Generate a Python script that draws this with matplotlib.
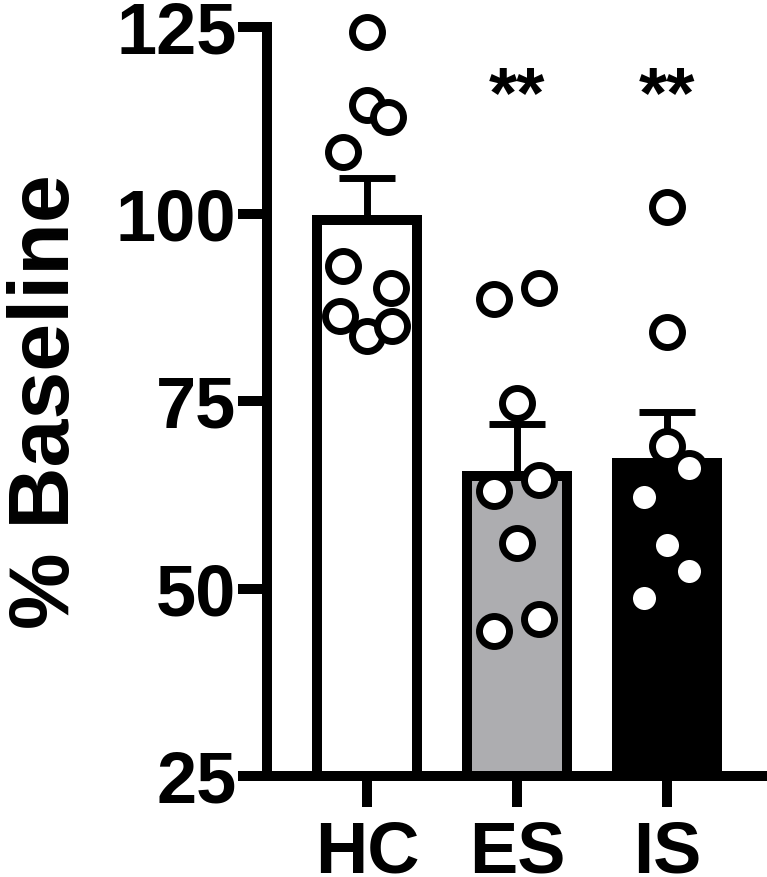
import matplotlib
matplotlib.use("Agg")
import matplotlib.pyplot as plt
import numpy as np

plt.rcParams['font.family'] = ['Liberation Sans', 'DejaVu Sans']
plt.rcParams['font.weight'] = 'bold'

# groups and bar summary
groups = ["HC", "ES", "IS"]
means = [99.2, 65.1, 66.8]
sems = [5.7, 6.9, 6.8]
bar_colors = ["white", "#adadb0", "black"]
stars = ["", "**", "**"]

# individual animals, % baseline
hc_vals = [124.3, 114.6, 113.0, 108.3, 93.1, 90.2, 86.4, 83.8, 85.1]
es_vals = [88.7, 90.1, 74.8, 63.0, 64.5, 56.1, 44.3, 46.0]
is_vals = [101.0, 84.3, 69.0, 66.1, 62.3, 55.9, 52.4, 48.7]

# horizontal scatter of the dots inside each bar
hc_jit = [0, 0, 0.14, -0.16, -0.16, 0.16, -0.18, 0, 0.17]
es_jit = [-0.15, 0.15, 0, -0.15, 0.15, 0, -0.15, 0.15]
is_jit = [0, 0, 0, 0.15, -0.15, 0, 0.15, -0.15]

yticks = [25, 50, 75, 100, 125]

fig = plt.figure(figsize=(7.67, 8.77), dpi=100)
ax = fig.add_axes([0.3481, 0.1152, 0.6519, 0.8540])

x = np.arange(len(groups))
lw = 7.2

ax.bar(x, means, width=0.667, bottom=0, color=bar_colors, edgecolor="black",
       linewidth=lw, zorder=2)

ax.errorbar(x, means, yerr=[np.zeros(len(x)), sems], fmt="none", ecolor="black",
            elinewidth=5, capsize=20, capthick=5, zorder=3)

for i, (vals, jit) in enumerate([(hc_vals, hc_jit), (es_vals, es_jit), (is_vals, is_jit)]):
    ax.plot(i + np.array(jit), vals, "o", ms=21.6, mfc="white", mec="black",
            mew=5, zorder=4, clip_on=False)

for i, s in enumerate(stars):
    if s:
        ax.text(i, 115.5, s, ha="center", va="center", fontsize=52,
                fontweight="bold")

ax.set_xlim(-0.6667, 2.6667)
ax.set_ylim(25, 125)
ax.set_yticks(yticks)
ax.set_xticks(x)
ax.set_xticklabels(groups)

for side in ["top", "right"]:
    ax.spines[side].set_visible(False)
for side in ["left", "bottom"]:
    ax.spines[side].set_linewidth(lw)

ax.tick_params(axis="y", length=21, width=lw, pad=1, labelsize=52)
ax.tick_params(axis="x", length=22, width=lw, pad=9, labelsize=52)

ax.set_ylabel("% Baseline", fontsize=62, fontweight="bold")
ax.yaxis.set_label_coords(-0.36, 0.5)

fig.savefig("out.png", dpi=100)
